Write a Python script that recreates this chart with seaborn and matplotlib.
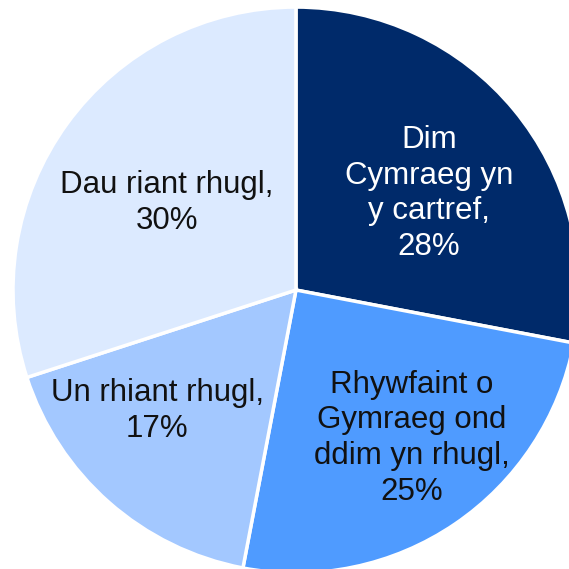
import numpy as np
import seaborn as sns
import matplotlib.pyplot as plt

# Slices, clockwise from 12 o'clock
categories = ['Dim\nCymraeg yn\ny cartref', 'Rhywfaint o\nGymraeg ond\nddim yn rhugl',
              'Un rhiant rhugl', 'Dau riant rhugl']
shares = [28, 25, 17, 30]
colours = ['#002A6A', '#4F9BFF', '#A3C8FF', '#DCEAFF']

# label placement (angle in degrees, radius as fraction of pie radius)
label_angle = [36, -52, -139, 146]
label_radius = [0.58, 0.665, 0.65, 0.55]

sns.set_theme(style='white')
plt.rcParams['font.family'] = ['Liberation Sans', 'DejaVu Sans']

fig = plt.figure(figsize=(5.69, 5.69), dpi=100)
ax = fig.add_axes([0, 0, 1, 1])

ax.pie(shares, colors=sns.color_palette(colours), startangle=90, counterclock=False,
       wedgeprops=dict(edgecolor='white', linewidth=2.5))

for name, val, ang, rad in zip(categories, shares, label_angle, label_radius):
    a = np.deg2rad(ang)
    col = 'white' if val == 28 else '#111111'
    ax.text(rad * np.cos(a), rad * np.sin(a), f'{name},\n{val}%', ha='center', va='center',
            fontsize=22.5, color=col, linespacing=1.25)

# pie is larger than the canvas, clipped on the right and bottom
ax.set_xlim(-1.046, 0.965)
ax.set_ylim(-0.986, 1.025)
ax.set_aspect('equal')
ax.axis('off')

fig.savefig('out.png', dpi=100)
